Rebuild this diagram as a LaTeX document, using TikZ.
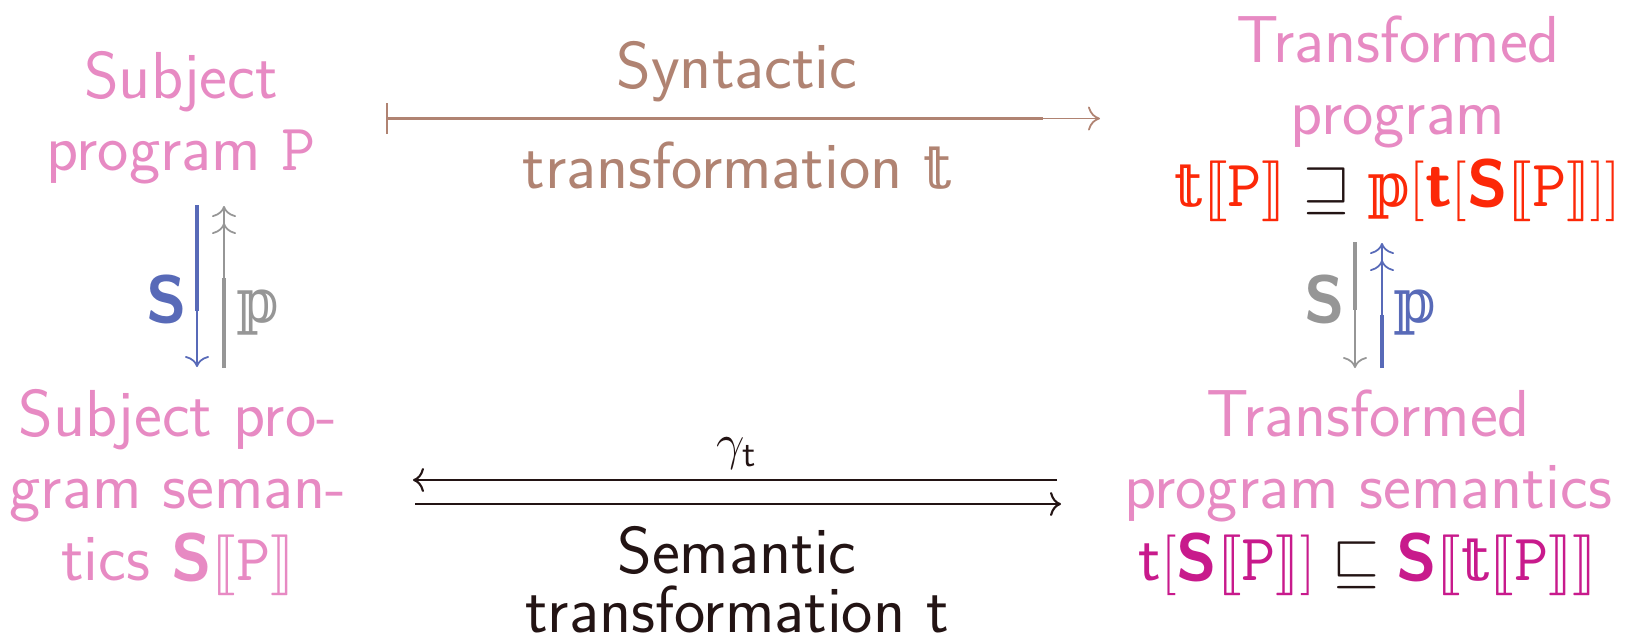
\documentclass[tikz,border=0pt]{standalone}
\usepackage{fontspec}
\usetikzlibrary{arrows.meta}
\IfFileExists{stmaryrd.sty}{\usepackage{stmaryrd}\let\LBr\llbracket\let\RBr\rrbracket}{\def\LBr{[\![}\def\RBr{]\!]}}
\newfontfamily\dvserif{DejaVu Serif}[Scale=0.92]
\newcommand\dbl[1]{\mbox{\dvserif #1}}
\newcommand\Ssem{\mbox{\sffamily\bfseries S}}
\newcommand\Pt{\mathtt{P}}
\definecolor{pinkc}{RGB}{231,138,195}
\definecolor{brownc}{RGB}{176,131,114}
\definecolor{bluec}{RGB}{88,106,184}
\definecolor{grayc}{RGB}{150,150,150}
\definecolor{tred}{RGB}{252,40,8}
\definecolor{tmag}{RGB}{200,26,140}
\definecolor{darkc}{RGB}{35,20,20}
\tikzset{
  txt/.style={inner sep=0pt, anchor=base, font=\fontsize{18.9pt}{20.5pt}\selectfont\sffamily},
  thinln/.style={line width=0.5pt},
  thickln/.style={line width=1.1pt},
  onehead/.style={-{To[length=1.1mm,width=2.4mm]}},
  twohead/.style={-{To[length=1.1mm,width=2.4mm,sep=0.6mm]To[length=1.1mm,width=2.4mm]}},
}
\begin{document}
\begin{tikzpicture}[x=0.1mm,y=-0.1mm]
\useasboundingbox (0,0) rectangle (1628,636);
% text blocks
\node[txt, text=pinkc] (sp) at (181,98) {\begin{tabular}[t]{@{}c@{}}Subject\\ program $\Pt$\end{tabular}};
\node[txt, text=pinkc] (tp) at (1398,62) {\begin{tabular}[t]{@{}c@{}}Transformed\\ program\\ {\color{tred}$\dbl{𝕥}\LBr\Pt\RBr \mathrel{\textcolor{darkc}{\sqsupseteq}} \dbl{𝕡}[\mbox{\sffamily\bfseries t}[\Ssem\LBr\Pt\RBr]]$}\end{tabular}};
\node[txt, text=pinkc] (ss) at (178,436) {\begin{tabular}[t]{@{}c@{}}Subject pro-\\ gram seman-\\ tics $\Ssem\LBr\Pt\RBr$\end{tabular}};
\node[txt, text=pinkc] (ts) at (1368,436) {\begin{tabular}[t]{@{}c@{}}Transformed\\ program semantics\\ {\color{tmag}$\mathsf{t}[\Ssem\LBr\Pt\RBr] \mathrel{\textcolor{darkc}{\sqsubseteq}} \Ssem\LBr\dbl{𝕥}\LBr\Pt\RBr\RBr$}\end{tabular}};
% middle labels
\node[txt, text=brownc] (syn) at (737,88) {Syntactic};
\node[txt, text=brownc] (synt) at (737,188) {transformation $\dbl{𝕥}$};
\node[txt, text=darkc] (sem) at (737,573) {\begin{tabular}[t]{@{}c@{}}Semantic\\[-3.5pt] transformation $\mathsf{t}$\end{tabular}};
\node[inner sep=0pt, anchor=base, text=darkc, font=\fontsize{15pt}{17pt}\selectfont] (gam) at (737,459) {$\gamma_{\mathsf{t}}$};
% vertical labels
\node[txt, text=bluec] (sl) at (167,322) {\bfseries S};
\node[txt, text=grayc] (pl) at (258,322) {$\dbl{𝕡}$};
\node[txt, text=grayc] (sr) at (1325,322) {\bfseries S};
\node[txt, text=bluec] (pr) at (1415,322) {$\dbl{𝕡}$};
% coordinates
\coordinate (a1) at (386,118.5);
\coordinate (a2) at (1100,118.5);
\coordinate (a3) at (1043,118.5);
\coordinate (l1) at (197,205);
\coordinate (l2) at (197,367);
\coordinate (l3) at (197,311);
\coordinate (m1) at (224,368);
\coordinate (m2) at (224,206);
\coordinate (m3) at (224,278);
\coordinate (r1) at (1355,242);
\coordinate (r2) at (1355,368);
\coordinate (r3) at (1355,310);
\coordinate (q1) at (1382,368);
\coordinate (q2) at (1382,243);
\coordinate (q3) at (1382,315);
\coordinate (b1) at (1057,480);
\coordinate (b2) at (413,480);
\coordinate (c1) at (415,504);
\coordinate (c2) at (1061,504);
% top arrow
\draw[brownc, thinln, {Bar[width=3.1mm]}-{To[length=1.2mm,width=2.4mm]}] (a1) -- (a2);
\draw[brownc, thickln] (a1) -- (a3);
% left verticals
\draw[bluec, thinln, onehead] (l1) -- (l2);
\draw[bluec, thickln] (l1) -- (l3);
\draw[grayc, thinln, twohead] (m1) -- (m2);
\draw[grayc, thickln] (m1) -- (m3);
% right verticals
\draw[grayc, thinln, onehead] (r1) -- (r2);
\draw[grayc, thickln] (r1) -- (r3);
\draw[bluec, thinln, twohead] (q1) -- (q2);
\draw[bluec, thickln] (q1) -- (q3);
% bottom arrows
\draw[darkc, line width=0.6pt, onehead] (b1) -- (b2);
\draw[darkc, line width=0.6pt, onehead] (c1) -- (c2);
\end{tikzpicture}
\end{document}
